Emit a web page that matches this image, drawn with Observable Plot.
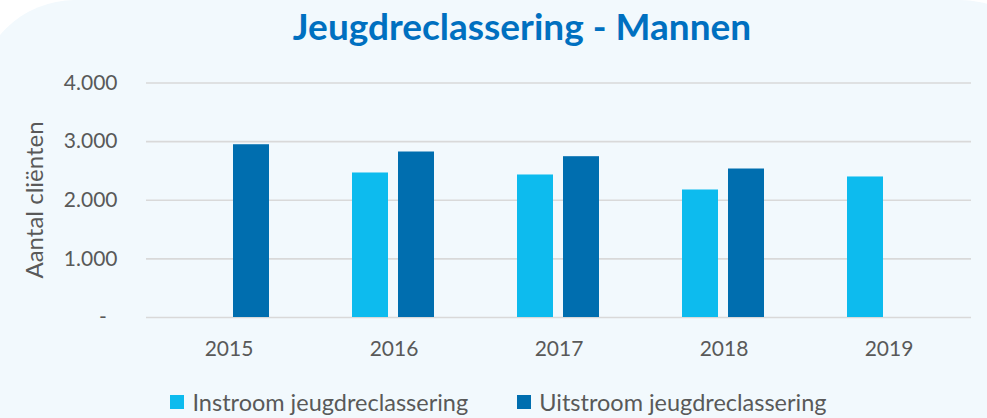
<!DOCTYPE html>
<html>
<head>
<meta charset="utf-8">
<script src="https://cdn.jsdelivr.net/npm/d3@7"></script>
<script src="https://cdn.jsdelivr.net/npm/@observablehq/plot@0.6"></script>
<style>
  html, body { margin: 0; padding: 0; background: #ffffff; width: 987px; height: 418px; overflow: hidden; position: relative; }
  #card { position: absolute; left: -23px; top: 0; width: 1081px; height: 560px; background: #f2f9fd; border-radius: 98px; }
  #title { position: absolute; left: 0; top: 3px; width: 1044px; text-align: center; font-family: Lato, sans-serif; font-weight: 700; font-size: 37px; color: #0070c0; }
  #chart { position: absolute; left: 0; top: 62px; }
  #ylabel { position: absolute; left: 33px; top: 200px; transform: translate(-50%, -50%) rotate(-90deg); font-family: Lato, sans-serif; font-size: 24px; color: #595959; white-space: nowrap; }
  #legend { position: absolute; left: 0; top: 388px; width: 987px; display: flex; justify-content: center; gap: 49px; font-family: Lato, sans-serif; font-size: 23.5px; color: #595959; padding-left: 10px; box-sizing: border-box; }
  .item { display: flex; align-items: center; gap: 8px; }
  .sw { width: 14px; height: 14px; display: inline-block; }
</style>
</head>
<body>
<div id="card"></div>
<div id="title">Jeugdreclassering - Mannen</div>
<div id="chart"></div>
<div id="ylabel">Aantal cliënten</div>
<div id="legend"></div>
<script>
const years = ["2015", "2016", "2017", "2018", "2019"];
const seriesNames = ["Instroom jeugdreclassering", "Uitstroom jeugdreclassering"];
const instroom = [null, 2465, 2431, 2175, 2397];
const uitstroom = [2947, 2823, 2743, 2533, null];
const yTicks = [0, 1000, 2000, 3000, 4000];
const colors = ["#0dbbee", "#006eaf"];

const data = years.flatMap((y, i) => [
  {year: y, series: seriesNames[0], value: instroom[i]},
  {year: y, series: seriesNames[1], value: uitstroom[i]}
]).filter(d => d.value != null);

const fmt = d => d === 0 ? "-\u00a0\u00a0" : d3.format(",")(d).replace(/,/g, ".");

const chart = Plot.plot({
  width: 987,
  height: 310,
  marginLeft: 144,
  marginRight: 14,
  marginTop: 20.5,
  marginBottom: 55,
  style: {background: "transparent", fontFamily: "Lato, sans-serif", fontSize: "21px", color: "#595959"},
  fx: {domain: years, padding: 0, label: null, tickSize: 0, tickPadding: 24},
  x: {domain: seriesNames, axis: null, paddingInner: 0.21, paddingOuter: 0.87},
  y: {domain: [0, 4000], ticks: yTicks, tickFormat: fmt, label: null, tickSize: 0, tickPadding: 29},
  color: {domain: seriesNames, range: colors},
  marks: [
    Plot.ruleY(yTicks, {stroke: "#d9d9d9", strokeWidth: 1.6}),
    Plot.barY(data, {fx: "year", x: "series", y: "value", fill: "series"})
  ]
});
document.getElementById("chart").appendChild(chart);

const legend = document.getElementById("legend");
seriesNames.forEach((s, i) => {
  const item = document.createElement("div");
  item.className = "item";
  const sw = document.createElement("span");
  sw.className = "sw";
  sw.style.background = colors[i];
  const t = document.createElement("span");
  t.textContent = s;
  item.appendChild(sw);
  item.appendChild(t);
  legend.appendChild(item);
});
</script>
</body>
</html>
